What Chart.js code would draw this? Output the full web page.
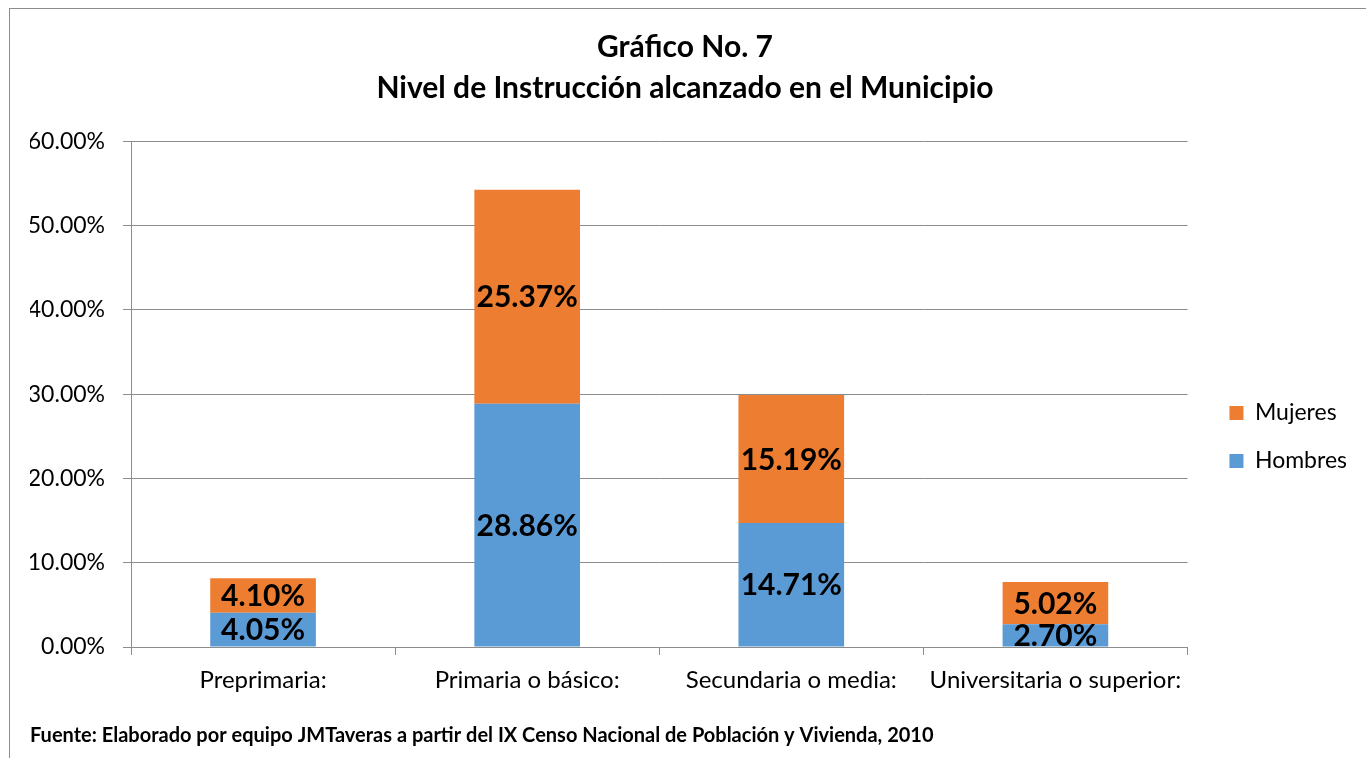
<!DOCTYPE html>
<html>
<head>
<meta charset="utf-8">
<script src="https://cdn.jsdelivr.net/npm/chart.js@4.4.1/dist/chart.umd.min.js"></script>
<style>
  html, body { margin: 0; padding: 0; background: #fff; overflow: hidden; }
  #frame { position: absolute; left: 9px; top: 8px; width: 1500px; height: 900px; border: 1px solid #8c8c8c; }
  #wrap { position: absolute; left: 0; top: 0; width: 1366px; height: 758px; }
</style>
</head>
<body>
<div id="frame"></div>
<div id="wrap"><canvas id="grafico" width="1366" height="758"></canvas></div>
<script>
// --- DATOS ---
const categorias = ["Preprimaria:", "Primaria o básico:", "Secundaria o media:", "Universitaria o superior:"];
const hombres = [4.05, 28.86, 14.71, 2.70];
const mujeres = [4.10, 25.37, 15.19, 5.02];
const ticksY = [0, 10, 20, 30, 40, 50, 60];
const titulo = ["Gráfico No. 7", "Nivel de Instrucción alcanzado en el Municipio"];
const fuente = "Fuente: Elaborado por equipo JMTaveras a partir del IX Censo Nacional de Población y Vivienda, 2010";

const FONT = "Lato, 'Open Sans', sans-serif";
const GRIS = "#8c8c8c";

// etiquetas centradas dentro de cada segmento
const etiquetasBarras = {
  id: "etiquetasBarras",
  afterDatasetsDraw(chart) {
    const ctx = chart.ctx;
    const area = chart.chartArea;
    ctx.save();
    ctx.beginPath();
    ctx.rect(area.left, area.top, area.right - area.left, area.bottom - area.top);
    ctx.clip();
    ctx.font = "bold 30px " + FONT;
    ctx.fillStyle = "#000";
    ctx.textAlign = "center";
    ctx.textBaseline = "middle";
    chart.data.datasets.forEach((ds, i) => {
      const meta = chart.getDatasetMeta(i);
      meta.data.forEach((bar, j) => {
        const yc = (bar.y + bar.base) / 2;
        ctx.fillText(ds.data[j].toFixed(2) + "%", bar.x, yc + 1);
      });
    });
    ctx.restore();
  }
};

// mover la leyenda a su sitio
const moverLeyenda = {
  id: "moverLeyenda",
  afterLayout(chart) {
    const lg = chart.legend;
    if (!lg) return;
    lg.left += 17; lg.right += 17;
    lg.top += 58; lg.bottom += 58;
  }
};

const ctx = document.getElementById("grafico").getContext("2d");
new Chart(ctx, {
  type: "bar",
  data: {
    labels: categorias,
    datasets: [
      { label: "Hombres", data: hombres, backgroundColor: "#5B9BD5", borderWidth: 0 },
      { label: "Mujeres", data: mujeres, backgroundColor: "#ED7D31", borderWidth: 0 }
    ]
  },
  options: {
    responsive: false,
    animation: false,
    devicePixelRatio: 1,
    layout: { padding: { left: 30, right: 26, top: 0, bottom: 0 } },
    datasets: { bar: { categoryPercentage: 1.0, barPercentage: 0.40 } },
    scales: {
      x: {
        stacked: true,
        offset: true,
        grid: { display: true, drawOnChartArea: false, drawTicks: true, tickLength: 8, color: GRIS, offset: true },
        border: { display: true, color: GRIS, width: 1 },
        ticks: { color: "#000", font: { family: FONT, size: 24 }, padding: 11, maxRotation: 0 },
        afterFit(s) { s.height = 56; }
      },
      y: {
        stacked: true,
        min: 0,
        max: 60,
        afterBuildTicks(s) { s.ticks = ticksY.map(v => ({ value: v })); },
        grid: { color: GRIS, tickLength: 8, drawTicks: true },
        border: { display: true, color: GRIS, width: 1 },
        ticks: {
          color: "#000",
          font: { family: FONT, size: 23 },
          padding: 18,
          callback: v => v.toFixed(2) + "%"
        },
        afterFit(s) { s.width = 101; }
      }
    },
    plugins: {
      title: {
        display: true,
        text: titulo,
        color: "#000",
        font: { family: FONT, size: 30, weight: "bold", lineHeight: 1.37 },
        padding: { top: 27, bottom: 32 }
      },
      subtitle: {
        display: true,
        position: "bottom",
        align: "start",
        text: fuente,
        color: "#000",
        font: { family: FONT, size: 20, weight: "bold", lineHeight: 1.2 },
        padding: { top: 21, bottom: 10 }
      },
      legend: {
        position: "right",
        reverse: true,
        maxWidth: 163,
        labels: {
          boxWidth: 14,
          boxHeight: 14,
          padding: 25,
          color: "#000",
          font: { family: FONT, size: 23 }
        }
      },
      tooltip: { enabled: false }
    }
  },
  plugins: [etiquetasBarras, moverLeyenda]
});
</script>
</body>
</html>
